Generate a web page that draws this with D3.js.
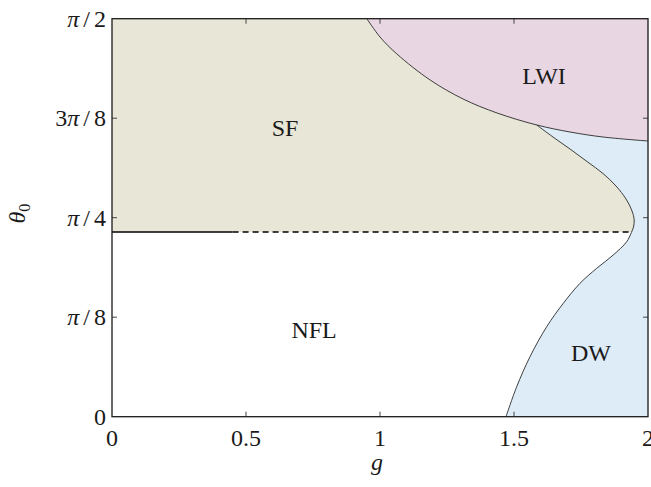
<!DOCTYPE html>
<html>
<head>
<meta charset="utf-8">
<script src="https://cdn.jsdelivr.net/npm/d3@7"></script>
<style>
  body { margin: 0; background: #fff; }
  svg text { font-family: "Liberation Serif", "DejaVu Serif", serif; fill: #1a1a1a; }
</style>
</head>
<body>
<div id="chart"></div>
<script>
// phase boundaries (g, theta0 in radians)
var lwiG     = [0.951, 1.000, 1.063, 1.187, 1.310, 1.437, 1.585, 1.709, 1.832, 2.0];
var lwiTheta = [1.5708, 1.4986, 1.4315, 1.3289, 1.2539, 1.1986, 1.1513, 1.1236, 1.1039, 1.0881];
var triple   = 6; // index in lwi arrays where the DW boundary leaves

var dwG     = [1.5847, 1.6455, 1.7090, 1.7724, 1.8321, 1.8806, 1.9179, 1.9403, 1.9485, 1.9459, 1.9377, 1.9205,
               1.8705, 1.8086, 1.7463, 1.6840, 1.6220, 1.5597, 1.5101, 1.4701];
var dwTheta = [1.1513, 1.1039, 1.0565, 1.0072, 0.9598, 0.9105, 0.8592, 0.8118, 0.7763, 0.7487, 0.7262, 0.6907,
               0.6382, 0.5857, 0.5265, 0.4476, 0.3552, 0.2368, 0.1184, 0.0];

var sfTheta   = 0.729;  // SF / NFL border
var solidEnd  = 0.45;   // solid part of that border
var dashEnd   = 1.937;  // where it meets the DW curve

var regionNames = ['SF', 'LWI', 'NFL', 'DW'];
var regionG     = [0.646, 1.612, 0.754, 1.787];
var regionTheta = [1.139, 1.344, 0.342, 0.251];

var xTicks      = [0, 0.5, 1, 1.5, 2];
var xTickLabels = ['0', '0.5', '1', '1.5', '2'];
var yTicks      = [0, Math.PI / 8, Math.PI / 4, 3 * Math.PI / 8, Math.PI / 2];
var yTickLabels = [['0'], ['π', '/', '8'], ['π', '/', '4'], ['3', 'π', '/', '8'], ['π', '/', '2']];

var width = 651, height = 487;
var margin = {top: 18.7, right: 3, bottom: 70.3, left: 112};
var w = width - margin.left - margin.right;
var h = height - margin.top - margin.bottom;

var svg = d3.select('#chart').append('svg')
	.attr('width', width).attr('height', height);
var g = svg.append('g').attr('transform', 'translate(' + margin.left + ',' + margin.top + ')');

var x = d3.scaleLinear().domain([0, 2]).range([0, w]);
var y = d3.scaleLinear().domain([0, Math.PI / 2]).range([h, 0]);

var line = d3.line()
	.x(function(d) { return x(d[0]); })
	.y(function(d) { return y(d[1]); })
	.curve(d3.curveCatmullRom.alpha(0.5));

var lwiPts = lwiG.map(function(v, i) { return [v, lwiTheta[i]]; });
var dwPts  = dwG.map(function(v, i) { return [v, dwTheta[i]]; });

// SF band above the border, then DW and LWI painted over it
g.append('rect')
	.attr('x', x(0)).attr('y', y(Math.PI / 2))
	.attr('width', x(2) - x(0)).attr('height', y(sfTheta) - y(Math.PI / 2))
	.style('fill', '#e8e6d6');

var lwiTail = lwiPts.slice(triple).reverse();
g.append('path')
	.attr('d', line(dwPts) + 'L' + x(2) + ',' + y(0) + 'L' + x(2) + ',' + y(lwiTail[0][1]) +
		line(lwiTail).replace(/^M/, 'L') + 'Z')
	.style('fill', '#ddecf7');

g.append('path')
	.attr('d', line(lwiPts) + 'L' + x(2) + ',' + y(Math.PI / 2) + 'Z')
	.style('fill', '#e8d6e2');

// boundary lines
g.append('path').attr('d', line(lwiPts))
	.style('fill', 'none').style('stroke', '#2a2a2a').style('stroke-width', 0.9);
g.append('path').attr('d', line(dwPts))
	.style('fill', 'none').style('stroke', '#2a2a2a').style('stroke-width', 0.9);

g.append('line')
	.attr('x1', x(0)).attr('x2', x(solidEnd))
	.attr('y1', y(sfTheta)).attr('y2', y(sfTheta))
	.style('stroke', '#000').style('stroke-width', 1.3);
g.append('line')
	.attr('x1', x(solidEnd)).attr('x2', x(dashEnd))
	.attr('y1', y(sfTheta)).attr('y2', y(sfTheta))
	.style('stroke', '#000').style('stroke-width', 1.3)
	.style('stroke-dasharray', '6,4');

// region names
g.selectAll('.region')
	.data(regionNames)
	.enter()
	.append('text')
	.attr('class', 'region')
	.attr('x', function(d, i) { return x(regionG[i]); })
	.attr('y', function(d, i) { return y(regionTheta[i]); })
	.attr('text-anchor', 'middle')
	.attr('dominant-baseline', 'central')
	.style('font-size', '24px')
	.text(function(d) { return d; });

// inward ticks on all four sides
var tk = 5;
xTicks.slice(1, -1).forEach(function(v) {
	g.append('line').attr('x1', x(v)).attr('x2', x(v)).attr('y1', h).attr('y2', h - tk)
		.style('stroke', '#444');
	g.append('line').attr('x1', x(v)).attr('x2', x(v)).attr('y1', 0).attr('y2', tk)
		.style('stroke', '#444');
});
yTicks.slice(1, -1).forEach(function(v) {
	g.append('line').attr('x1', 0).attr('x2', tk).attr('y1', y(v)).attr('y2', y(v))
		.style('stroke', '#444');
	g.append('line').attr('x1', w).attr('x2', w - tk).attr('y1', y(v)).attr('y2', y(v))
		.style('stroke', '#444');
});

// frame
g.append('rect')
	.attr('x', 0).attr('y', 0).attr('width', w).attr('height', h)
	.style('fill', 'none').style('stroke', '#1a1a1a').style('stroke-width', 1.3);

// tick labels
g.selectAll('.xlab')
	.data(xTickLabels)
	.enter()
	.append('text')
	.attr('class', 'xlab')
	.attr('x', function(d, i) { return x(xTicks[i]); })
	.attr('y', h + 29)
	.attr('text-anchor', 'middle')
	.style('font-size', '24px')
	.text(function(d) { return d; });

var ylab = g.selectAll('.ylab')
	.data(yTickLabels)
	.enter()
	.append('text')
	.attr('class', 'ylab')
	.attr('x', -6)
	.attr('y', function(d, i) { return y(yTicks[i]) + 8; })
	.attr('text-anchor', 'end')
	.style('font-size', '24px');
ylab.selectAll('tspan')
	.data(function(d) { return d; })
	.enter()
	.append('tspan')
	.attr('dx', function(d, i) { return (d === '/' || (i > 0 && this.parentNode.__data__[i - 1] === '/')) ? 4 : 0; })
	.style('font-style', function(d) { return d === 'π' ? 'italic' : 'normal'; })
	.text(function(d) { return d; });

// axis titles
g.append('text')
	.attr('x', x(1) - 3).attr('y', h + 53)
	.attr('text-anchor', 'middle')
	.style('font-size', '24px').style('font-style', 'italic')
	.text('g');

var yt = svg.append('text')
	.attr('transform', 'translate(25,' + (margin.top + y(Math.PI / 4) - 4) + ') rotate(-90)')
	.attr('text-anchor', 'middle')
	.style('font-size', '24px');
yt.append('tspan').style('font-style', 'italic').text('θ');
yt.append('tspan').attr('dy', 5).style('font-size', '16px').text('0');
</script>
</body>
</html>
